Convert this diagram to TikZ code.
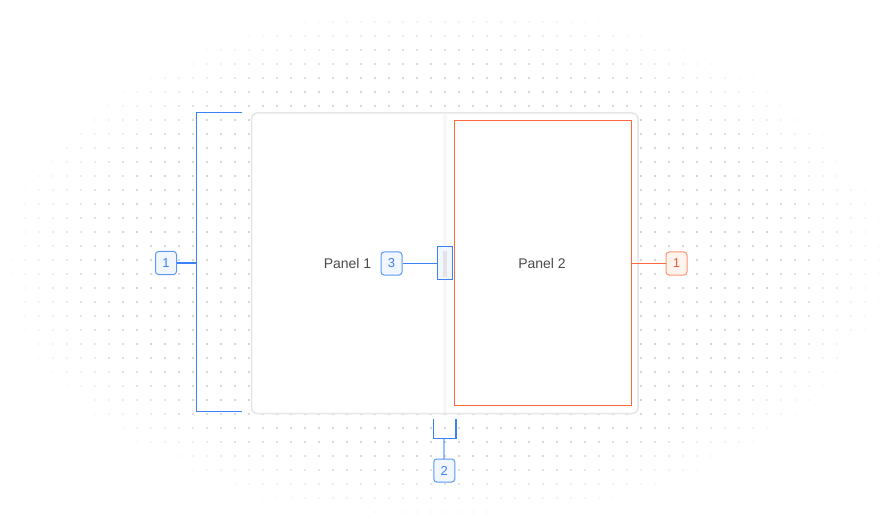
\documentclass[tikz,border=0pt]{standalone}
\usepackage{fontspec}
\setmainfont{Liberation Sans}
\definecolor{blu}{HTML}{3B82F6}
\definecolor{blubord}{HTML}{5B98F7}
\definecolor{blufill}{HTML}{F1F6FF}
\definecolor{ora}{HTML}{FF6A3D}
\definecolor{orabord}{HTML}{FF9672}
\definecolor{orafill}{HTML}{FFF3EE}
\definecolor{frame}{HTML}{E6E6E8}
\definecolor{dotc}{HTML}{D6D6D9}
\definecolor{txt}{HTML}{4A4A4F}
\tikzset{
  badge/.style={draw=blubord, fill=blufill, line width=1pt, rounded corners=3pt,
    minimum width=21pt, minimum height=23pt, inner sep=0pt, text=blu, font=\fontsize{13}{13}\selectfont},
  obadge/.style={badge, draw=orabord, fill=orafill, text=ora!90!black},
  bline/.style={draw=blu, line width=1.2pt},
  oline/.style={draw=ora, line width=1pt},
  ptext/.style={text=txt, font=\fontsize{14}{14}\selectfont, inner sep=0pt}
}
\begin{document}
\begin{tikzpicture}[x=1pt,y=-1pt]
\useasboundingbox (0,0) rectangle (890,526);
\fill[white] (0,0) rectangle (890,526);
% dot grid with elliptical fade
\foreach \i in {0,...,63}{
  \foreach \j in {0,...,37}{
    \pgfmathsetmacro\xx{10.7+14*\i}
    \pgfmathsetmacro\yy{8+14*\j}
    \pgfmathsetmacro\rr{((\xx-445)/440)^2+((\yy-263)/258)^2}
    \pgfmathsetmacro\op{max(0,min(1,(1.04-\rr)/0.5))}
    \ifdim\op pt>0.02pt
      \fill[dotc, opacity=\op] (\xx-1.1,\yy-1.1) rectangle (\xx+1.1,\yy+1.1);
    \fi
  }
}
% device frame
\draw[frame, fill=white, line width=1.5pt, rounded corners=6pt] (251.5,113) rectangle (638,413.5);
\fill[gray!6] (443,114) rectangle (447,412.7);
% orange panel 2 highlight
\draw[oline] (454.5,120.5) rectangle (631,405.5);
% texts
\node[ptext] (p1) at (347.5,263.5) {Panel 1};
\node[ptext] (p2) at (542,263.5) {Panel 2};
% hinge
\node[draw=blu, fill=blufill, line width=1pt, minimum width=14.5pt, minimum height=32.5pt, inner sep=0pt] (hinge) at (444.8,263.2) {};
\fill[gray!22] (442.7,251) rectangle (447.3,276.5);
% badges
\node[badge] (b3) at (391.5,263.5) {3};
\node[badge] (b1) at (166,263) {1};
\node[badge] (b2) at (444.3,470.5) {2};
\node[obadge] (o1) at (676.5,263.5) {1};
% left bracket
\coordinate (lt) at (242.3,112.8);
\coordinate (lb) at (242.3,411.8);
\coordinate (lm) at (196.5,263);
\draw[bline] (lt) -- (lt -| lm) -- (lb -| lm) -- (lb);
\draw[bline] (b1.east) -- (lm);
% hinge pointer
\draw[bline] (b3.east) -- (b3.east -| hinge.west);
% bottom bracket
\coordinate (bl) at (433.5,419);
\coordinate (br) at (456,419);
\coordinate (bm) at (444.3,438.5);
\draw[bline] (bl) -- (bl |- bm) -- (br |- bm) -- (br);
\draw[bline, draw opacity=0.5, line width=2pt] (bm) -- (b2.north);
% right pointer
\draw[oline] (631,263.5) -- (o1.west);
\end{tikzpicture}
\end{document}
